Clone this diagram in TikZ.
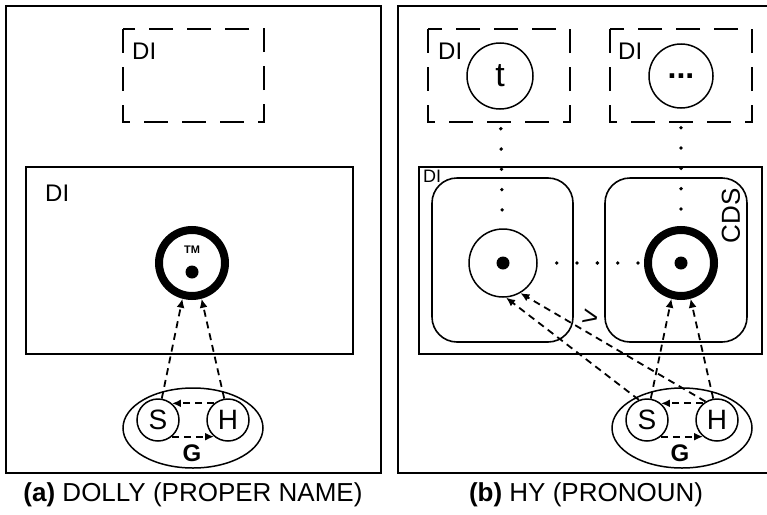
\documentclass[tikz,border=0pt]{standalone}
\usepackage{fontspec}
\setmainfont{Liberation Sans}
\usetikzlibrary{arrows.meta,shapes.geometric}

\begin{document}
\begin{tikzpicture}[x=1pt, y=-1pt,
    frame/.style={draw, line width=1.6pt},
    ghost/.style={draw, line width=1.5pt, dash pattern=on 24pt off 14pt},
    ref/.style={circle, draw, line width=1.5pt, minimum size=68pt, inner sep=0pt},
    thickref/.style={circle, draw, line width=8pt, minimum size=66pt, inner sep=0pt},
    agent/.style={circle, draw, line width=1.5pt, minimum size=42pt, inner sep=0pt, font=\fontsize{28}{28}\selectfont},
    grp/.style={ellipse, draw, line width=1.5pt, minimum width=140pt, minimum height=80pt, inner sep=0pt},
    link/.style={line width=1.8pt, dash pattern=on 7pt off 5pt, -{Latex[length=9pt,width=8pt]}},
    dots/.style={line width=3.8pt, line cap=round, dash pattern=on 0pt off 20.3pt},
    lbl/.style={anchor=north west, inner sep=0pt, font=\fontsize{24}{24}\selectfont},
    captxt/.style={font=\fontsize{26}{26}\selectfont}]
    \useasboundingbox (0,0) rectangle (767,514);

    % (a) proper name
    \draw[frame] (6,6) rectangle (381,473);
    \draw[ghost] (123,29) rectangle (264,122);
    \node[lbl] (diA1) at (132,43) {DI};
    \draw[frame] (26,167) rectangle (353,354);
    \node[lbl] (diA2) at (45,185) {DI};

    \node[thickref] (tmA) at (192,263) {};
    \node[font=\bfseries\fontsize{11}{11}\selectfont] (tmmark) at (192,250) {TM};
    \fill (192,272) circle (6.5);

    \node[grp] (grpA) at (193,428) {};
    \node[agent] (sA) at (158,420) {S};
    \node[agent] (hA) at (228,420) {H};
    \node[font=\bfseries\fontsize{24}{24}\selectfont] (gA) at (192,453) {G};

    \draw[link] (sA.80) -- (tmA.-105);
    \draw[link] (hA.100) -- (tmA.-75);
    \draw[link] (hA.130) -- (sA.50);
    \draw[link] (sA.-50) -- (hA.-130);

    \node[captxt] (capA) at (193,495) {\textbf{(a)} DOLLY (PROPER NAME)};

    % (b) pronoun
    \draw[frame] (398,6) rectangle (772,473);
    \draw[ghost] (428,29) rectangle (570,122);
    \node[lbl] (diB1) at (438,43) {DI};
    \draw[ghost] (610,29) rectangle (752,122);
    \node[lbl] (diB2) at (618,43) {DI};
    \draw[frame] (419,167) rectangle (762,354);
    \node[lbl, font=\fontsize{18}{18}\selectfont] (diB3) at (423,170) {DI};
    \draw[frame, rounded corners=25pt] (432,178) rectangle (573,342);
    \draw[frame, rounded corners=25pt] (605,178) rectangle (747,342);
    \node[rotate=90, font=\fontsize{26}{26}\selectfont] (cds) at (731,216) {CDS};

    \node[ref, minimum size=66pt, font=\fontsize{34}{34}\selectfont] (tgt) at (500,76) {t};
    \node[ref, minimum size=64pt, font=\bfseries\fontsize{32}{32}\selectfont] (more) at (681,76) {...};
    \node[ref] (c1) at (503,263) {};
    \fill (503,263) circle (6.5);
    \node[thickref] (c2) at (681,263) {};
    \fill (681,263) circle (6.5);

    \draw[dots, shorten <=19pt, shorten >=18pt] (tgt) -- (c1);
    \draw[dots, shorten <=19pt, shorten >=15pt] (more) -- (c2);
    \draw[dots, shorten <=19pt, shorten >=4pt] (c1) -- (c2);

    \node[grp] (grpB) at (682,428) {};
    \node[agent] (sB) at (647,420) {S};
    \node[agent] (hB) at (717,420) {H};
    \node[font=\bfseries\fontsize{24}{24}\selectfont] (gB) at (680,453) {G};

    \draw[link] (sB.80) -- (c2.-105);
    \draw[link] (hB.100) -- (c2.-75);
    \draw[link] (sB.112) -- (c1.-85);
    \draw[link] (hB.122) -- (c1.-60);
    \draw[link] (hB.130) -- (sB.50);
    \draw[link] (sB.-50) -- (hB.-130);
    \node[rotate=-12, font=\fontsize{28}{28}\selectfont] (gt) at (590,318) {>};

    \node[captxt] (capB) at (586,495) {\textbf{(b)} HY (PRONOUN)};
\end{tikzpicture}
\end{document}
